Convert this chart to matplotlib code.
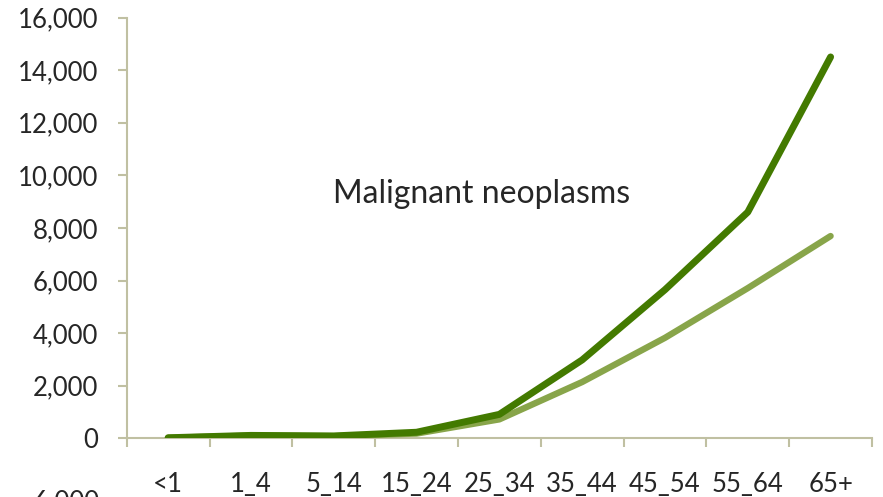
import matplotlib
matplotlib.use("Agg")
import matplotlib.pyplot as plt
from matplotlib.ticker import FuncFormatter, FixedLocator

# Age groups and death counts for the two series
age_groups = ["<1", "1_4", "5_14", "15_24", "25_34", "35_44", "45_54", "55_64", "65+"]
series_dark = [20, 110, 90, 230, 910, 2980, 5650, 8600, 14500]
series_light = [20, 100, 80, 180, 720, 2140, 3820, 5710, 7690]
y_ticks = list(range(0, 16001, 2000))
title_text = "Malignant neoplasms"

plt.rcParams["font.family"] = ["Lato", "DejaVu Sans"]

W, H = 883, 497
fig = plt.figure(figsize=(W / 100, H / 100), dpi=100)
ax = fig.add_axes([126.7 / W, 1 - 438.3 / H, (872 - 126.7) / W, (438.3 - 17.5) / H])

axis_col = "#C0C0A2"
text_col = "#262626"
dark_col = "#437A00"
light_col = "#88A54A"

x = list(range(len(age_groups)))
ax.plot(x, series_light, color=light_col, lw=4.6, solid_capstyle="round",
        solid_joinstyle="round", zorder=3)
ax.plot(x, series_dark, color=dark_col, lw=5.0, solid_capstyle="round",
        solid_joinstyle="round", zorder=4)

ax.set_xlim(-0.5, len(age_groups) - 0.5)
ax.set_ylim(0, 16000)

for s in ("top", "right"):
    ax.spines[s].set_visible(False)
for s in ("left", "bottom"):
    ax.spines[s].set_color(axis_col)
    ax.spines[s].set_linewidth(1.5)

# y axis
ax.set_yticks(y_ticks)
ax.yaxis.set_major_formatter(FuncFormatter(lambda v, p: f"{int(v):,}"))
ax.tick_params(axis="y", direction="out", length=6.3, width=1.5, color=axis_col,
               pad=14, labelsize=18.5, labelcolor=text_col)

# x axis: boundary ticks (major) and centred labels (minor)
ax.xaxis.set_major_locator(FixedLocator([i - 0.5 for i in range(len(age_groups) + 1)]))
ax.xaxis.set_major_formatter(FuncFormatter(lambda v, p: ""))
ax.xaxis.set_minor_locator(FixedLocator(x))
ax.set_xticklabels(age_groups, minor=True)
ax.tick_params(axis="x", which="major", direction="out", length=6.3, width=1.5,
               color=axis_col)
ax.tick_params(axis="x", which="minor", length=0, pad=24, labelsize=18.5,
               labelcolor=text_col)

ax.text(482 / W, 1 - 194 / H, title_text, transform=fig.transFigure,
        ha="center", va="center", fontsize=23, color=text_col)

# axis label of the panel below, partly outside the figure
fig.text(100 / W, 1 - 489 / H, "-6,000", ha="right", va="top", fontsize=18.5,
         color=text_col)

fig.savefig("out.png", dpi=100)
